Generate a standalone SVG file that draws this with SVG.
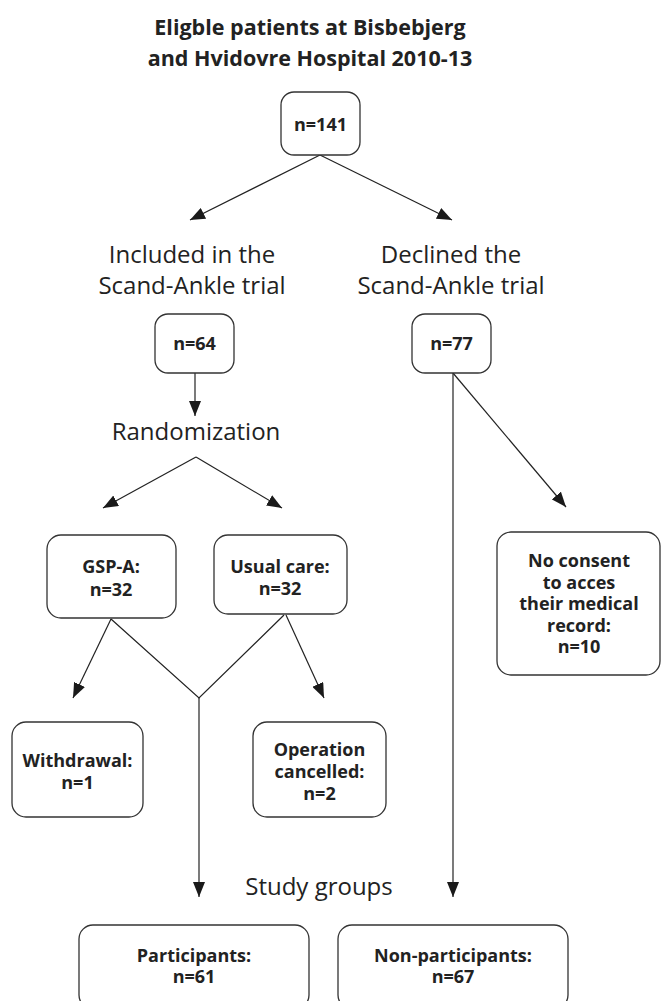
<svg xmlns="http://www.w3.org/2000/svg" width="662" height="1001" viewBox="0 0 662 1001">
<defs>
<marker id="ah" viewBox="0 0 15 12" refX="15" refY="6" markerWidth="15" markerHeight="12" markerUnits="userSpaceOnUse" orient="auto">
<path d="M0,0 L15,6 L0,12 Z" fill="#1a1a1a"/>
</marker>
<style>
.box{fill:#fff;stroke:#333;stroke-width:1.3}
.bt{font-family:"Open Sans","Liberation Sans",sans-serif;font-weight:bold;font-size:18px;fill:#222;text-anchor:middle}
.lbl{font-family:"Open Sans","Liberation Sans",sans-serif;font-size:24px;fill:#222;text-anchor:middle}
.ttl{font-family:"Open Sans","Liberation Sans",sans-serif;font-weight:bold;font-size:21.5px;fill:#222;text-anchor:middle}
.ln{fill:none;stroke:#222;stroke-width:1.2}
.arr{fill:none;stroke:#222;stroke-width:1.2;marker-end:url(#ah)}
</style>
</defs>
<rect width="662" height="1001" fill="#fff"/>
<g id="title">
<text class="ttl" x="310" y="35">Eligble patients at Bisbebjerg</text>
<text class="ttl" x="310" y="66">and Hvidovre Hospital 2010-13</text>
</g>
<g id="labels">
<text class="lbl" x="192" y="263">Included in the</text>
<text class="lbl" x="192" y="294">Scand-Ankle trial</text>
<text class="lbl" x="451" y="263">Declined the</text>
<text class="lbl" x="451" y="294">Scand-Ankle trial</text>
<text class="lbl" x="196" y="440">Randomization</text>
<text class="lbl" x="319" y="895">Study groups</text>
</g>
<g id="connectors">
<line class="arr" x1="320" y1="155" x2="190" y2="220"/>
<line class="arr" x1="320" y1="155" x2="452" y2="220"/>
<line class="arr" x1="195" y1="373" x2="195" y2="416"/>
<line class="arr" x1="196" y1="457" x2="103" y2="508"/>
<line class="arr" x1="196" y1="457" x2="282" y2="508"/>
<line class="arr" x1="111" y1="619" x2="73" y2="698"/>
<polyline class="ln" points="111,619 199,698 284,615"/>
<line class="arr" x1="286" y1="615" x2="324" y2="698"/>
<line class="arr" x1="199" y1="698" x2="199" y2="897"/>
<line class="arr" x1="453" y1="373" x2="453" y2="897"/>
<line class="arr" x1="453" y1="373" x2="566" y2="507"/>
</g>
<g id="n141"><rect class="box" x="281" y="92" width="79" height="63" rx="13"/><text class="bt" x="320.5" y="131">n=141</text></g>
<g id="n64"><rect class="box" x="155" y="314" width="79" height="59" rx="13"/><text class="bt" x="194.5" y="350">n=64</text></g>
<g id="n77"><rect class="box" x="412" y="314" width="79" height="59" rx="13"/><text class="bt" x="451.5" y="350">n=77</text></g>
<g id="gspa"><rect class="box" x="47" y="535" width="129" height="83" rx="14"/><text class="bt" x="111" y="573">GSP-A:</text><text class="bt" x="111" y="596">n=32</text></g>
<g id="usual"><rect class="box" x="214" y="535" width="133" height="79" rx="14"/><text class="bt" x="280" y="573">Usual care:</text><text class="bt" x="280" y="595">n=32</text></g>
<g id="noconsent"><rect class="box" x="497" y="532" width="163" height="143" rx="14"/>
<text class="bt" x="579" y="567">No consent</text><text class="bt" x="579" y="589">to acces</text><text class="bt" x="579" y="610">their medical</text><text class="bt" x="579" y="632">record:</text><text class="bt" x="579" y="653">n=10</text></g>
<g id="withdrawal"><rect class="box" x="12" y="722" width="131" height="95" rx="14"/><text class="bt" x="77.5" y="767">Withdrawal:</text><text class="bt" x="77.5" y="789">n=1</text></g>
<g id="cancelled"><rect class="box" x="253" y="722" width="133" height="95" rx="14"/><text class="bt" x="319.5" y="756">Operation</text><text class="bt" x="319.5" y="778">cancelled:</text><text class="bt" x="319.5" y="800">n=2</text></g>
<g id="participants"><rect class="box" x="79" y="925" width="230" height="84" rx="14"/><text class="bt" x="194" y="962">Participants:</text><text class="bt" x="194" y="983">n=61</text></g>
<g id="nonparticipants"><rect class="box" x="338" y="925" width="230" height="84" rx="14"/><text class="bt" x="453" y="962">Non-participants:</text><text class="bt" x="453" y="983">n=67</text></g>
</svg>
